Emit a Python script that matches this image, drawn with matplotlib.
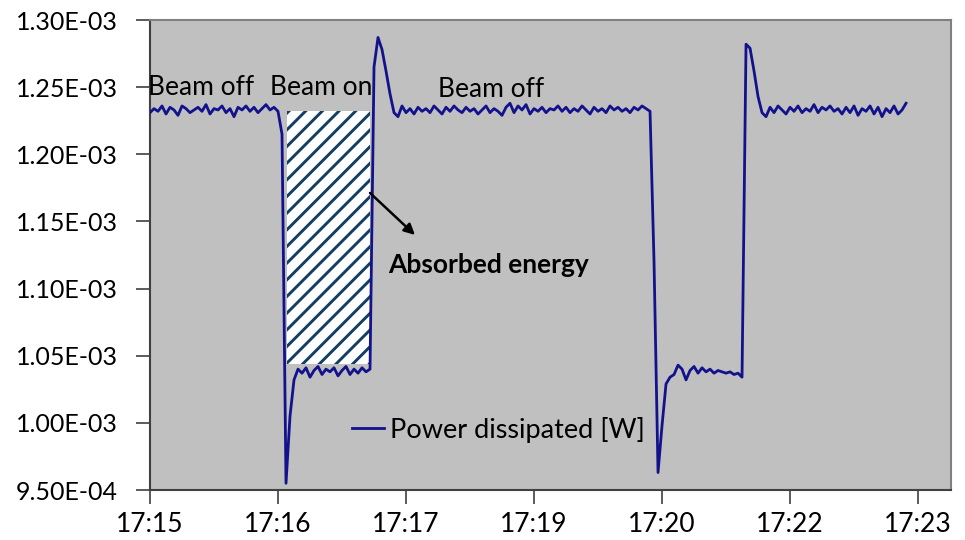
import numpy as np
import matplotlib
matplotlib.use('Agg')
import matplotlib.pyplot as plt
from matplotlib.ticker import FuncFormatter

#%% Data (power in microwatts, one sample every 2.5 s)
SAMPLE_DT = 2.5
power_uW = [
    # beam off
    1231, 1234, 1232, 1236, 1230, 1235, 1233, 1229, 1236, 1234,
    1231, 1233, 1235, 1232, 1237, 1230, 1234, 1233, 1236, 1231,
    1234, 1228, 1235, 1233, 1236, 1232, 1235, 1231, 1234, 1237,
    1233, 1235, 1232,
    # beam on
    1215, 955, 1005, 1032,
    1040, 1037, 1041, 1034, 1039, 1042, 1036, 1040, 1038, 1041,
    1035, 1039, 1042, 1036, 1040, 1037, 1041, 1038, 1040,
    # beam off
    1265, 1287, 1278, 1262, 1245, 1231,
    1228, 1236, 1231, 1234, 1230, 1235, 1232, 1234, 1231, 1236,
    1233, 1230, 1235, 1232, 1236, 1233, 1231, 1235, 1232, 1234,
    1230, 1233, 1236, 1231, 1234, 1232, 1229, 1235, 1238, 1231,
    1236, 1233, 1237, 1230, 1234, 1232, 1235, 1231, 1234, 1233,
    1236, 1232, 1235, 1231, 1234, 1232, 1236, 1233, 1230, 1235,
    1232, 1234, 1231, 1236, 1233, 1235, 1232, 1234, 1231, 1235,
    1233, 1236, 1234, 1232,
    # beam on
    1120, 963, 998, 1029, 1034,
    1036, 1043, 1040, 1032, 1039, 1042, 1037, 1041, 1038, 1040,
    1037, 1039, 1038, 1037, 1038, 1036, 1037, 1034,
    # beam off
    1282, 1279, 1262, 1243, 1231,
    1228, 1235, 1231, 1236, 1233, 1230, 1235, 1232, 1236, 1231,
    1234, 1232, 1237, 1231, 1235, 1233, 1236, 1232, 1234, 1230,
    1235, 1231, 1236, 1229, 1234, 1232, 1236, 1230, 1235, 1228,
    1234, 1231, 1236, 1230, 1233, 1238,
]

# absorbed energy box (time in s, power in uW)
absorbed_t = [85.6, 137.5]
absorbed_lo = 1044
absorbed_hi = 1232

x_tick_pos = [0, 80, 160, 240, 320, 400, 480]
x_tick_labels = ['17:15', '17:16', '17:17', '17:19', '17:20', '17:22', '17:23']
y_ticks = [9.5e-4, 1.0e-3, 1.05e-3, 1.1e-3, 1.15e-3, 1.2e-3, 1.25e-3, 1.3e-3]

t = np.arange(len(power_uW)) * SAMPLE_DT
p = np.array(power_uW) * 1e-6

#%% Build the plot
plt.rcParams['font.family'] = ['Lato', 'DejaVu Sans']
plt.rcParams['hatch.linewidth'] = 2.1

fig = plt.figure(figsize=(9.65, 5.4), dpi=100)
ax = fig.add_axes([150/965, 50/540, 801/965, 470/540])
ax.set_facecolor('#C0C0C0')

ax.fill_between(absorbed_t, absorbed_lo*1e-6, absorbed_hi*1e-6,
                facecolor='white', edgecolor='#123E62', hatch='//',
                linewidth=0, zorder=2)

ax.plot(t, p, color='#12128C', lw=2, label='Power dissipated [W]', zorder=3)

ax.set_xlim(0, 500.6)
ax.set_ylim(9.5e-4, 1.3e-3)
ax.set_xticks(x_tick_pos)
ax.set_xticklabels(x_tick_labels)
ax.set_yticks(y_ticks)
ax.yaxis.set_major_formatter(FuncFormatter(lambda v, pos: f'{v:.2E}'))
ax.tick_params(axis='both', direction='out', length=10, width=1.2,
               colors='#404040', labelcolor='black')
ax.tick_params(axis='x', pad=6, labelsize=19)
ax.tick_params(axis='y', pad=13, labelsize=18)

for side in ['left', 'bottom']:
    ax.spines[side].set_color('#404040')
    ax.spines[side].set_linewidth(1.5)
for side in ['top', 'right']:
    ax.spines[side].set_color('#808080')
    ax.spines[side].set_linewidth(1.5)

# annotations
ax.text(-1.2, 1.2494e-3, 'Beam off', fontsize=19, va='center', ha='left')
ax.text(75, 1.2494e-3, 'Beam on', fontsize=19, va='center', ha='left')
ax.text(180, 1.2479e-3, 'Beam off', fontsize=19, va='center', ha='left')
ax.annotate('', xy=(165.6, 1.1399e-3), xytext=(137.5, 1.1712e-3),
            arrowprops=dict(arrowstyle='-|>', color='black', lw=1.8,
                            mutation_scale=16, shrinkA=0, shrinkB=0))
ax.text(148.7, 1.1176e-3, 'Absorbed energy', fontsize=19,
        fontweight='bold', va='center', ha='left')

ax.legend(loc='center left', bbox_to_anchor=(0.252, 0.128), frameon=False,
          fontsize=19.5, handlelength=1.2, handletextpad=0.2, borderpad=0,
          borderaxespad=0)

plt.savefig('out.png', dpi=100)
